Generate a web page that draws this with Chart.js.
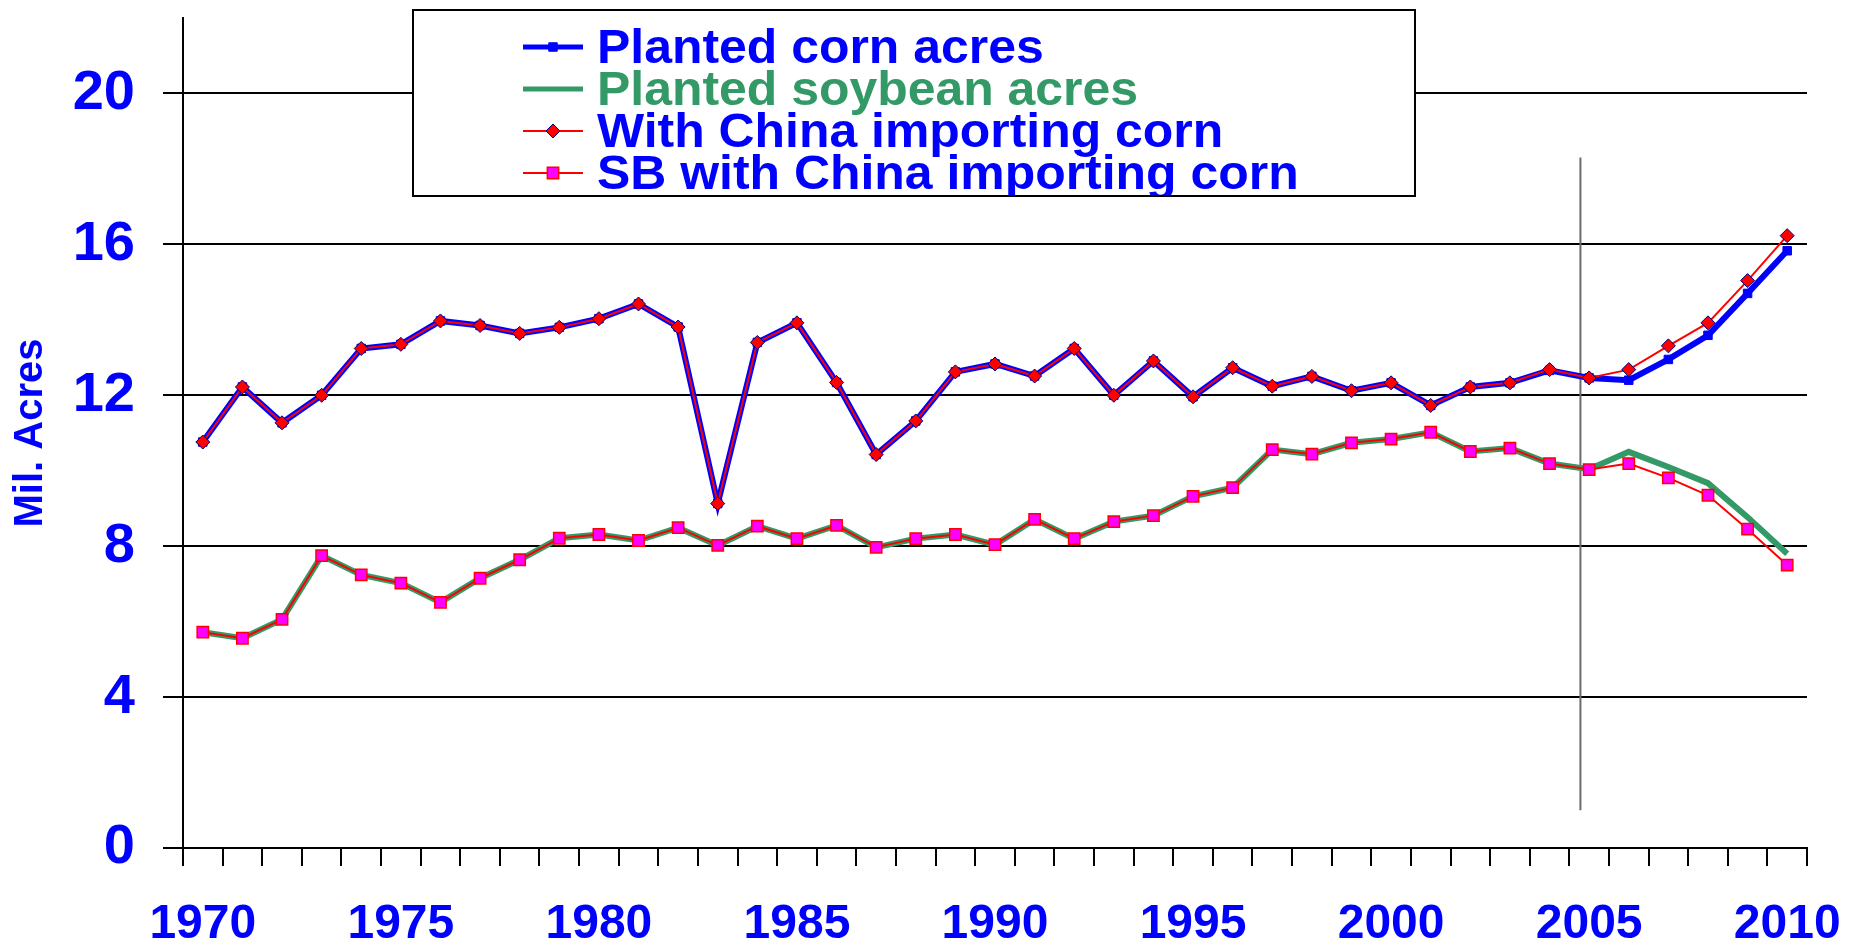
<!DOCTYPE html>
<html>
<head>
<meta charset="utf-8">
<title>Planted corn and soybean acres</title>
<script src="https://cdn.jsdelivr.net/npm/chart.js@4.4.1/dist/chart.umd.min.js"></script>
<style>
  html, body { margin: 0; padding: 0; background: #fff; }
  #wrap { width: 1852px; height: 952px; }
</style>
</head>
<body>
<div id="wrap"><canvas id="chart" width="1852" height="952"></canvas></div>
<script>
'use strict';

var years = [
  1970, 1971, 1972, 1973, 1974, 1975, 1976, 1977, 1978, 1979,
  1980, 1981, 1982, 1983, 1984, 1985, 1986, 1987, 1988, 1989,
  1990, 1991, 1992, 1993, 1994, 1995, 1996, 1997, 1998, 1999,
  2000, 2001, 2002, 2003, 2004, 2005, 2006, 2007, 2008, 2009,
  2010
];

var cornAcres = [
  10.76, 12.22, 11.27, 12.00, 13.24, 13.35, 13.97, 13.85, 13.64, 13.80,
  14.03, 14.42, 13.81, 9.13, 13.40, 13.92, 12.34, 10.43, 11.32, 12.62,
  12.83, 12.51, 13.24, 12.00, 12.91, 11.96, 12.73, 12.24, 12.50, 12.12,
  12.33, 11.73, 12.22, 12.33, 12.66, 12.46, 12.40, 12.95, 13.59, 14.70,
  15.83
];

var soybeanAcres = [
  5.72, 5.56, 6.06, 7.75, 7.24, 7.02, 6.51, 7.15, 7.64, 8.21,
  8.31, 8.15, 8.49, 8.02, 8.53, 8.20, 8.55, 7.97, 8.20, 8.31,
  8.04, 8.71, 8.20, 8.65, 8.81, 9.32, 9.55, 10.56, 10.44, 10.74,
  10.84, 11.02, 10.51, 10.60, 10.19, 10.04, 10.50, 10.10, 9.67, 8.77,
  7.80
];

var chinaCornAcres = [
  10.76, 12.22, 11.27, 12.00, 13.24, 13.35, 13.97, 13.85, 13.64, 13.80,
  14.03, 14.42, 13.81, 9.13, 13.40, 13.92, 12.34, 10.43, 11.32, 12.62,
  12.83, 12.51, 13.24, 12.00, 12.91, 11.96, 12.73, 12.24, 12.50, 12.12,
  12.33, 11.73, 12.22, 12.33, 12.68, 12.46, 12.68, 13.31, 13.92, 15.04,
  16.23
];

var chinaSoybeanAcres = [
  5.72, 5.56, 6.06, 7.75, 7.24, 7.02, 6.51, 7.15, 7.64, 8.21,
  8.31, 8.15, 8.49, 8.02, 8.53, 8.20, 8.55, 7.97, 8.20, 8.31,
  8.04, 8.71, 8.20, 8.65, 8.81, 9.32, 9.55, 10.56, 10.44, 10.74,
  10.84, 11.02, 10.51, 10.60, 10.19, 10.03, 10.19, 9.81, 9.35, 8.45,
  7.50
];

var yTicks = [0, 4, 8, 12, 16, 20];

// projection divider just before 2005 (category index, value range)
var dividerIndex = 34.78;
var dividerFrom = 1;
var dividerTo = 18.3;

var FONT = '"Liberation Sans", Arial, Helvetica, sans-serif';
var BLUE = '#0000ff';
var GREEN = '#339966';

var ctx = document.getElementById('chart').getContext('2d');

function drawMarker(c, style, x, y, r, fill, stroke, lw) {
  c.save();
  c.beginPath();
  if (style === 'rectRot') {
    c.moveTo(x, y - r);
    c.lineTo(x + r, y);
    c.lineTo(x, y + r);
    c.lineTo(x - r, y);
    c.closePath();
  } else {
    var s = r * Math.SQRT1_2;
    c.rect(x - s, y - s, 2 * s, 2 * s);
  }
  c.fillStyle = fill;
  c.fill();
  c.lineWidth = lw;
  c.strokeStyle = stroke;
  c.stroke();
  c.restore();
}

var dividerPlugin = {
  id: 'divider',
  beforeDatasetsDraw: function(chart) {
    var x = chart.scales.x.getPixelForValue(dividerIndex);
    var y1 = chart.scales.y.getPixelForValue(dividerTo);
    var y2 = chart.scales.y.getPixelForValue(dividerFrom);
    var c = chart.ctx;
    c.save();
    c.strokeStyle = '#6b6b6b';
    c.lineWidth = 2;
    c.beginPath();
    c.moveTo(x, y1);
    c.lineTo(x, y2);
    c.stroke();
    c.restore();
  }
};

var boxLegend = {
  id: 'boxLegend',
  afterDraw: function(chart) {
    var c = chart.ctx;
    var left = 413, top = 10, w = 1002, h = 186;
    c.save();
    c.fillStyle = '#fff';
    c.fillRect(left, top, w, h);
    c.lineWidth = 2;
    c.strokeStyle = '#000';
    c.strokeRect(left, top, w, h);
    c.beginPath();
    c.rect(left + 1, top + 1, w - 2, h - 2);
    c.clip();

    var sets = chart.data.datasets;
    for (var i = 0; i < sets.length; i++) {
      var ds = sets[i];
      var cy = 47 + i * 42;
      c.strokeStyle = ds.borderColor;
      c.lineWidth = ds.legendLineWidth;
      c.beginPath();
      c.moveTo(523, cy);
      c.lineTo(583, cy);
      c.stroke();
      if (ds.pointRadius > 0) {
        drawMarker(c, ds.pointStyle, 553, cy, ds.pointRadius,
          ds.pointBackgroundColor, ds.pointBorderColor, ds.pointBorderWidth);
      }
      c.save();
      c.translate(597, 63 + i * 42);
      c.scale(1.04, 1);
      c.fillStyle = ds.legendColor;
      c.font = 'bold 48px ' + FONT;
      c.textBaseline = 'alphabetic';
      c.textAlign = 'left';
      c.fillText(ds.label, 0, 0);
      c.restore();
    }
    c.restore();
  }
};

new Chart(ctx, {
  type: 'line',
  data: {
    labels: years,
    datasets: [
      {
        label: 'Planted corn acres',
        data: cornAcres,
        borderColor: BLUE,
        borderWidth: 6,
        legendLineWidth: 5,
        legendColor: BLUE,
        pointStyle: 'rect',
        pointRadius: 6,
        pointBackgroundColor: BLUE,
        pointBorderColor: BLUE,
        pointBorderWidth: 1,
        order: 3
      },
      {
        label: 'Planted soybean acres',
        data: soybeanAcres,
        borderColor: GREEN,
        borderWidth: 6,
        legendLineWidth: 5,
        legendColor: GREEN,
        pointRadius: 0,
        pointHoverRadius: 0,
        order: 2
      },
      {
        label: 'With China importing corn',
        data: chinaCornAcres,
        borderColor: '#ff0000',
        borderWidth: 2,
        legendLineWidth: 2,
        legendColor: BLUE,
        pointStyle: 'rectRot',
        pointRadius: 7,
        pointBackgroundColor: '#ff0000',
        pointBorderColor: '#000080',
        pointBorderWidth: 1,
        order: 0
      },
      {
        label: 'SB with China importing corn',
        data: chinaSoybeanAcres,
        borderColor: '#ff0000',
        borderWidth: 2,
        legendLineWidth: 2,
        legendColor: BLUE,
        pointStyle: 'rect',
        pointRadius: 8,
        pointBackgroundColor: '#ff00ff',
        pointBorderColor: '#ff0000',
        pointBorderWidth: 1.5,
        order: 1
      }
    ]
  },
  options: {
    responsive: false,
    animation: false,
    layout: { padding: { left: 0, right: 45, top: 18, bottom: 0 } },
    elements: { line: { tension: 0, fill: false } },
    plugins: {
      legend: { display: false },
      tooltip: { enabled: false }
    },
    scales: {
      x: {
        type: 'category',
        offset: true,
        grid: {
          offset: true,
          drawOnChartArea: false,
          drawTicks: true,
          tickLength: 18,
          color: '#000',
          lineWidth: 2
        },
        border: { display: true, color: '#000', width: 2 },
        ticks: {
          autoSkip: false,
          maxRotation: 0,
          padding: 35,
          color: BLUE,
          font: { family: FONT, size: 48, weight: 'bold', lineHeight: 1 },
          callback: function(value, index) {
            var yr = years[index];
            return yr % 5 === 0 ? String(yr) : '';
          }
        },
        afterFit: function(scale) {
          scale.height = 104;
          scale.paddingLeft = 0;
          scale.paddingRight = 0;
        }
      },
      y: {
        min: 0,
        max: 22,
        afterBuildTicks: function(scale) {
          scale.ticks = yTicks.map(function(v) { return { value: v }; });
        },
        grid: {
          color: '#000',
          lineWidth: 2,
          drawTicks: true,
          tickLength: 20
        },
        border: { display: true, color: '#000', width: 2 },
        ticks: {
          padding: 28,
          color: BLUE,
          font: { family: FONT, size: 56, weight: 'bold', lineHeight: 1 }
        },
        title: {
          display: true,
          text: 'Mil. Acres',
          color: BLUE,
          padding: { top: 7, bottom: 0 },
          font: { family: FONT, size: 40, weight: 'bold', lineHeight: 1.2 }
        },
        afterFit: function(scale) {
          scale.width = 183;
          scale.paddingTop = 0;
          scale.paddingBottom = 0;
        }
      }
    }
  },
  plugins: [dividerPlugin, boxLegend]
});
</script>
</body>
</html>
